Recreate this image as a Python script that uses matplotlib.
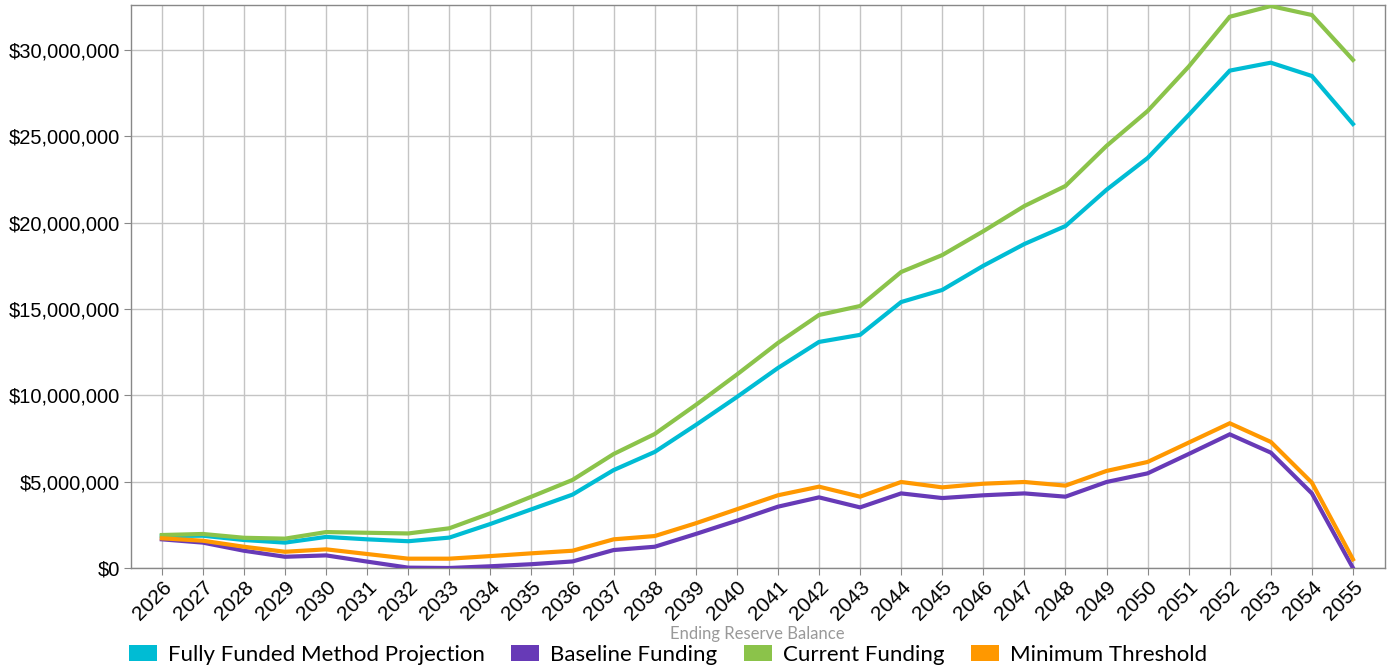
import matplotlib
matplotlib.use("Agg")
import matplotlib.pyplot as plt
from matplotlib.patches import Patch
from matplotlib.ticker import FuncFormatter, MultipleLocator

years = list(range(2026, 2056))
year_labels = [str(y) for y in years]

fully_funded = [1.85, 1.87, 1.62, 1.47, 1.80, 1.66, 1.55, 1.76, 2.55, 3.40,
                4.25, 5.67, 6.72, 8.28, 9.90, 11.58, 13.09, 13.50, 15.40, 16.10,
                17.50, 18.76, 19.80, 21.90, 23.74, 26.23, 28.80, 29.26, 28.49, 25.71]
baseline = [1.66, 1.47, 1.00, 0.65, 0.73, 0.37, 0.02, 0.00, 0.10, 0.22,
            0.38, 1.04, 1.23, 1.97, 2.74, 3.55, 4.09, 3.51, 4.32, 4.05,
            4.21, 4.32, 4.13, 4.98, 5.48, 6.60, 7.74, 6.68, 4.32, 0.00]
current = [1.91, 1.97, 1.75, 1.70, 2.08, 2.04, 2.00, 2.30, 3.17, 4.13,
           5.10, 6.60, 7.76, 9.44, 11.20, 13.03, 14.65, 15.17, 17.14, 18.12,
           19.50, 20.96, 22.12, 24.44, 26.46, 29.03, 31.92, 32.54, 32.02, 29.42]
minimum = [1.72, 1.58, 1.23, 0.94, 1.08, 0.81, 0.54, 0.54, 0.69, 0.85,
           1.00, 1.66, 1.85, 2.59, 3.40, 4.21, 4.71, 4.13, 4.98, 4.67,
           4.88, 4.98, 4.77, 5.62, 6.14, 7.26, 8.38, 7.30, 4.94, 0.50]

series_names = ["Fully Funded Method Projection", "Baseline Funding",
                "Current Funding", "Minimum Threshold"]
series_values = [fully_funded, baseline, current, minimum]
colors = ["#00BCD4", "#673AB7", "#8BC34A", "#FF9800"]
draw_order = [1, 3, 0, 2]

fig = plt.figure(figsize=(13.93, 6.67), dpi=100)
ax = fig.add_axes([131/1393, 1-568/667, (1385-131)/1393, (568-5)/667])

x = list(range(len(years)))
for i in draw_order:
    ax.plot(x, [v*1e6 for v in series_values[i]], color=colors[i], lw=3,
            solid_joinstyle="miter", zorder=3+i)

ax.set_xlim(-0.75, len(years) - 1 + 0.78)
ax.set_ylim(0, 32.6e6)
ax.set_xticks(x)
ax.set_xticklabels(year_labels, rotation=45, ha="right", rotation_mode="anchor",
                   fontsize=15, family="Liberation Sans")
ax.yaxis.set_major_locator(MultipleLocator(5e6))
ax.yaxis.set_major_formatter(FuncFormatter(lambda v, p: f"${v:,.0f}"))
ax.tick_params(axis="y", labelsize=14.5, length=5, color="#888888", pad=3)
ax.tick_params(axis="x", length=5, color="#888888", pad=2)
for lab in ax.get_yticklabels():
    lab.set_family("Liberation Sans")

ax.grid(True, color="#c4c4c4", lw=1)
ax.set_axisbelow(True)
for s in ax.spines.values():
    s.set_color("#888888")
    s.set_linewidth(1)

fig.text(757/1393, 1-634/667, "Ending Reserve Balance", ha="center", va="center",
         fontsize=12, color="#999999", family="Lato")

handles = [Patch(facecolor=c, edgecolor="none") for c in colors]
fig.legend(handles, series_names, loc="center left",
           bbox_to_anchor=(109/1393, 1-655/667), ncol=4, frameon=False,
           prop={"family": "Lato", "size": 16}, handlelength=1.25,
           handleheight=0.75, handletextpad=0.5, columnspacing=1.2)

fig.savefig("out.png", dpi=100)
